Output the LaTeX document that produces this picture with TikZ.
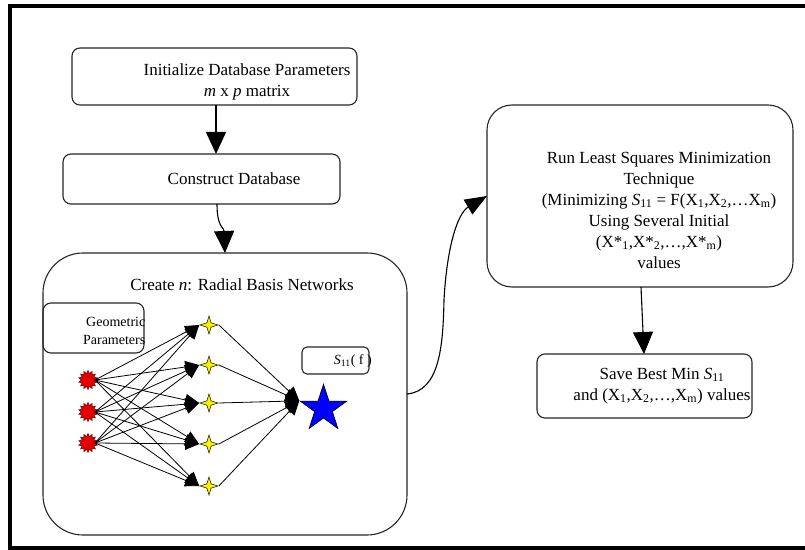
\documentclass[tikz,border=0pt]{standalone}
\usepackage{fontspec}
\setmainfont{Liberation Serif}
\usetikzlibrary{shapes.geometric,arrows.meta,calc}

\begin{document}
\begin{tikzpicture}[x=1bp,y=-1bp,
  box/.style={draw=black!85, line width=1.1bp, rounded corners=#1, inner sep=0pt, outer sep=0pt},
  box/.default=8bp,
  lbl/.style={font=\fontsize{17bp}{21bp}\selectfont, align=center, inner sep=0pt},
  small/.style={font=\fontsize{14bp}{18bp}\selectfont, inner sep=0pt},
  flow/.style={line width=1.1bp, -{Triangle[length=22bp,width=20bp]}},
  syn/.style={line width=0.8bp, -{Triangle[length=14bp,width=12bp]}},
  outsyn/.style={line width=0.8bp, -{Triangle[length=14bp,width=13bp]}},
  innode/.style={star, star points=14, star point ratio=1.45, minimum size=19bp,
    inner sep=0pt, fill=red!90!black, draw=red!40!black, line width=0.5bp},
  hidnode/.style={star, star points=4, star point ratio=3, minimum size=18bp,
    inner sep=0pt, fill=yellow, draw=black, line width=0.5bp},
  outnode/.style={star, star points=5, star point ratio=2.618, minimum size=49bp,
    inner sep=0pt, fill=blue, draw=black, line width=0.6bp}
]
\useasboundingbox (0,0) rectangle (805,550);
\fill[white] (0,0) rectangle (805,550);

% page frame (open on the right)
\draw[line width=3.5bp] (805,6) -- (10,6) -- (10,548) -- (805,548);

% flow boxes
\node[box, minimum width=285bp, minimum height=57bp] (init) at (214.5,76.5) {};
\node[lbl] (initT) at (247,82) {Initialize Database Parameters\\\textit{m} x \textit{p} matrix};

\node[box, minimum width=277bp, minimum height=50bp] (db) at (201.5,179) {};
\node[lbl] (dbT) at (234,179) {Construct Database};

\node[box=40bp, minimum width=364bp, minimum height=282bp] (rbf) at (225,394) {};
\node[lbl] (rbfT) at (242,285) {Create \textit{n}: Radial Basis Networks};

\node[box, minimum width=101bp, minimum height=50bp] (geo) at (93.5,328) {};
\node[small, align=right, anchor=east] (geoT) at (145.5,331) {Geometric\\Parameters};

\node[box=5bp, minimum width=67bp, minimum height=27bp] (sf) at (335.5,360.5) {};
\node[small, anchor=east] (sfT) at (372,361) {\textit{S}\textsubscript{11}( f )};

\node[box=25bp, minimum width=306bp, minimum height=182bp] (lsq) at (640,196) {};
\node[lbl] (lsqT) at (659,210) {Run Least Squares Minimization\\
  Technique\\
  (Minimizing \textit{S}\textsubscript{11} = F(X\textsubscript{1},X\textsubscript{2},\ldots X\textsubscript{m})\\
  Using Several Initial\\
  (X*\textsubscript{1},X*\textsubscript{2},\ldots,X*\textsubscript{m})\\
  values};

\node[box, minimum width=215bp, minimum height=64bp] (best) at (644.5,386) {};
\node[lbl] (bestT) at (662,386) {Save Best Min \textit{S}\textsubscript{11}\\
  and (X\textsubscript{1},X\textsubscript{2},\ldots,X\textsubscript{m}) values};

% radial basis network
\foreach \k/\y in {1/380,2/412,3/443}
  \node[innode] (i\k) at (88,\y) {};
\foreach \k/\y in {1/325,2/365,3/403,4/444,5/486}
  \node[hidnode] (h\k) at (209,\y) {};
\node[outnode] (out) at (323.5,408.7) {};

\foreach \i in {1,2,3}
  \foreach \k in {1,...,5}
    \draw[syn] (i\i.east) -- (h\k.west);
\foreach \k in {1,...,5}
  \draw[outsyn] (h\k.east) -- (out.outer point 2);

% flow connectors
\draw[flow] ($(init.south)+(1.5,0)$) -- ($(db.north)+(14.5,0)$);
\draw[flow] ($(db.south)+(15.5,0)$) .. controls +(0,24) and +(-1,-26) .. (rbf.north);
\draw[line width=1.1bp, -{Triangle[length=22bp,width=17bp]}]
  (rbf.east) .. controls +(33,-3) and +(-1,45) .. (444,300)
  .. controls +(3,-55) and +(-29,17) .. (lsq.west);
\draw[flow] ($(lsq.south)+(1,0)$) -- ($(best.north)+(-0.5,0)$);
\end{tikzpicture}
\end{document}
